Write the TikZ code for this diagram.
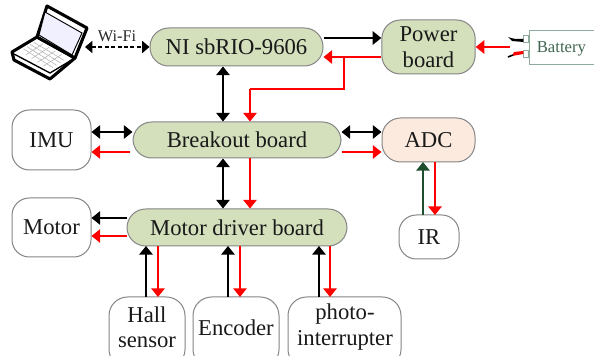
\documentclass[tikz,border=0pt]{standalone}
\usepackage{fontspec}
\setmainfont{Liberation Serif}
\usetikzlibrary{arrows.meta,calc}
\definecolor{boardgreen}{HTML}{D4DFBC}
\definecolor{adcfill}{HTML}{FBEADD}
\definecolor{edgegray}{HTML}{858585}
\definecolor{irgreen}{HTML}{1F4E2F}
\definecolor{batt}{HTML}{3F6650}
\definecolor{battedge}{HTML}{8FAB9B}
\tikzset{
  x=0.75pt,y=-0.75pt,
  box/.style={draw=edgegray,line width=0.75pt,rounded corners=#1,inner sep=0pt,align=center,font=\fontsize{17}{20}\selectfont,text=black!90},
  box/.default=12pt,
  board/.style={box=#1,fill=boardgreen},
  plain/.style={box=#1,fill=white},
  wire/.style={line width=2.1pt,-{Triangle[width=10pt,length=6.5pt]}},
  bothwire/.style={line width=2.1pt,{Triangle[width=10pt,length=6.5pt]}-{Triangle[width=10pt,length=6.5pt]}},
  redwire/.style={wire,red,line join=miter},
}
\newcommand{\boxat}[7]{% style, name, x1, y1, x2, y2, text
  \node[#1,minimum width={(#5-#3)*0.75pt},minimum height={(#6-#4)*0.75pt}] (#2) at ({(#3+#5)/2},{(#4+#6)/2}) {#7};}
\begin{document}
\begin{tikzpicture}
\useasboundingbox (0,0) rectangle (594,356);
\clip (0,0) rectangle (594,356);
% laptop
\draw[line width=2.3pt,fill=white,line join=round] (37,37) -- (12,52) -- (14,60) -- (50,79) -- (75,58) -- cycle;
\draw[line width=2.3pt,fill=white,line join=round] (47,6) -- (87,28) -- (75,58) -- (37,37) -- cycle;
\fill[blue!6!white,draw=black,line width=0.7pt] (45,12) -- (82,33) -- (72,55) -- (39,35) -- cycle;
\foreach \t in {0.2,0.4,0.6,0.8}{
  \draw[black!30,line width=0.4pt] ($(20,51)!\t!(49,70)$) -- ($(37,40)!\t!(68,58)$);
  \draw[black!30,line width=0.4pt] ($(20,51)!\t!(37,40)$) -- ($(49,70)!\t!(68,58)$);
}
\draw[line width=1pt] (14,54) -- (50,73) -- (75,58);
% boxes
\boxat{board=14pt}{ni}{150}{28}{323}{66}{NI sbRIO-9606}
\boxat{board=14pt,text width=70pt}{power}{382}{20}{475}{74}{Power\\[-0.5pt]board}
\boxat{board=14pt}{bo}{133}{122}{341}{158}{Breakout board}
\boxat{box=14pt,fill=adcfill}{adc}{382}{118}{475}{162}{ADC}
\boxat{plain=13pt}{imu}{12}{110}{91}{170}{IMU}
\boxat{plain=13pt}{motor}{12}{198}{91}{257}{Motor}
\boxat{board=14pt}{md}{127}{209}{347}{246}{Motor driver board}
\boxat{plain=13pt}{ir}{399}{215}{459}{259}{IR}
\boxat{plain=14pt}{hall}{109}{297}{185}{368}{}
\boxat{plain=14pt}{enc}{193}{297}{279}{368}{}
\boxat{plain=14pt}{photo}{288}{297}{401}{368}{}
\node[font=\fontsize{17}{20}\selectfont,align=center,text=black!90] (halltext) at (147,327) {Hall\\[-1pt]sensor};
\node[font=\fontsize{17}{20}\selectfont,text=black!90] (enctext) at (236,328) {Encoder};
\node[font=\fontsize{17}{20}\selectfont,align=center,text=black!90] (phototext) at (345,327) {photo-\\[-1pt]interrupter};
% battery
\node[draw=battedge,fill=white,line width=0.6pt,minimum width=60pt,minimum height=25.5pt,inner sep=0pt,anchor=west,font=\fontsize{12.5}{14}\selectfont,text=batt,text depth=0pt] (batt) at (529,47) {\hspace*{-12pt}Battery};
\node[draw=battedge,fill=white,line width=0.5pt,minimum width=3.75pt,minimum height=5pt,inner sep=0pt,anchor=east] (tp) at (batt.west |- 0,39) {};
\node[draw=battedge,fill=white,line width=0.5pt,minimum width=3.75pt,minimum height=5pt,inner sep=0pt,anchor=east] (tn) at (batt.west |- 0,54) {};
\coordinate (wp) at (508,37);
\coordinate (wn) at (508,57);
\fill[black] (wp) .. controls (514,39) .. (tp.west) -- ($(tp.west)+(0,3)$) .. controls (518,42) .. (512,41) -- cycle;
\fill[red] (tn.west) -- ($(tn.west)+(0,-3)$) -- (514,52) -- (512,56) -- cycle;
\draw[black,line width=1.2pt] (wn) -- (513,55);
% Wi-Fi
\coordinate (lapr) at (85,47);
\draw[line width=1.3pt,dash pattern=on 3pt off 1.8pt,{Triangle[width=9pt,length=5.5pt]}-{Triangle[width=9pt,length=5.5pt]}] (lapr) -- (lapr -| ni.west);
\node[font=\fontsize{12.2}{14}\selectfont,text=black!85] (wifi) at (117,36) {Wi-Fi};
% verticals x
\coordinate (a) at (223,0);
\coordinate (b) at (250,0);
\coordinate (c) at (344,57);
\coordinate (d) at (344,89);
\coordinate (e) at (250,89);
% NI / power
\draw[wire] (ni.east |- 0,38) -- (power.west |- 0,38);
\draw[redwire] (power.west |- 0,57) -- (ni.east |- 0,57);
\draw[line width=2.1pt,red,line join=miter] (c) -- (d) -- (e);
\draw[redwire] (e) -- (b |- bo.north);
\draw[bothwire] (a |- ni.south) -- (a |- bo.north);
\draw[redwire] (batt.west |- 0,47) ++(-19,0) -- (power.east |- 0,47);
% IMU
\draw[bothwire] (imu.east |- 0,132) -- (bo.west |- 0,132);
\draw[redwire] (130,152) -- (imu.east |- 0,152);
% breakout - driver
\draw[bothwire] (a |- bo.south) -- (a |- md.north);
\draw[redwire] (b |- bo.south) -- (b |- md.north);
% ADC
\draw[bothwire] (bo.east |- 0,132) -- (adc.west |- 0,132);
\draw[redwire] (bo.east |- 0,152) -- (adc.west |- 0,152);
% IR
\draw[wire,irgreen] (423,215) -- (423,162);
\draw[redwire] (435,162) -- (435,215);
% Motor
\draw[wire] (md.west |- 0,218) -- (motor.east |- 0,218);
\draw[redwire] (md.west |- 0,236) -- (motor.east |- 0,236);
% sensors
\draw[wire] (146,297) -- (146,246);
\draw[redwire] (158,246) -- (158,297);
\draw[wire] (228,297) -- (228,246);
\draw[redwire] (240,246) -- (240,297);
\draw[wire] (319,297) -- (319,246);
\draw[redwire] (330,246) -- (330,297);
\end{tikzpicture}
\end{document}
